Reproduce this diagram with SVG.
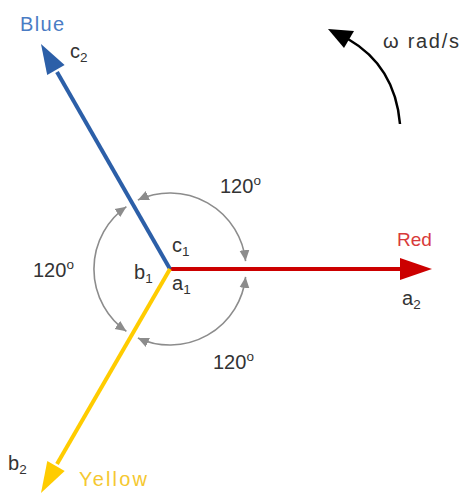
<svg xmlns="http://www.w3.org/2000/svg" width="461" height="494" viewBox="0 0 461 494">
<style>
text{font-family:"Liberation Sans",Arial,sans-serif;fill:#333;font-size:20px}
.sub{font-size:13.5px}
.arc{fill:none;stroke:#8c8c8c;stroke-width:1.6;marker-start:url(#g);marker-end:url(#g)}
</style>
<defs>
<marker id="g" markerUnits="userSpaceOnUse" viewBox="0 0 10 10" refX="10" refY="5" markerWidth="11" markerHeight="11" orient="auto-start-reverse">
<path d="M0,0.5 L10,5 L0,9.5 z" fill="#8c8c8c"/>
</marker>
</defs>
<rect width="461" height="494" fill="#fff"/>
<g id="connectors">
<path class="arc" d="M245.6,261.1 A76,76 0 0 0 137.9,200.1"/>
<path class="arc" d="M126.4,206.7 A76,76 0 0 0 126.4,331.3"/>
<path class="arc" d="M137.9,337.9 A76,76 0 0 0 245.6,276.9"/>
</g>
<g id="phase-red">
<line x1="170" y1="269" x2="402" y2="269" stroke="#cc0000" stroke-width="4"/>
<polygon points="400,258 432,269 400,280" fill="#cc0000"/>
<text x="397" y="246" style="fill:#d83a3a;font-size:19px">Red</text>
<text x="402" y="305">a<tspan class="sub" dy="4">2</tspan></text>
</g>
<g id="phase-blue">
<line x1="170" y1="269" x2="57" y2="72" stroke="#2c5fa8" stroke-width="4"/>
<polygon points="41,44 64.6,65 47.2,75" fill="#2c5fa8"/>
<text x="20" y="31" style="fill:#4a7cc4" textLength="44">Blue</text>
<text x="70" y="58">c<tspan class="sub" dy="4">2</tspan></text>
</g>
<g id="phase-yellow">
<line x1="170" y1="269" x2="57" y2="464" stroke="#ffcc00" stroke-width="4"/>
<polygon points="41,493 64.7,471 47.3,461" fill="#ffcc00"/>
<text x="79" y="486" style="fill:#f5c830" textLength="68">Yellow</text>
<text x="8" y="470">b<tspan class="sub" dy="4">2</tspan></text>
</g>
<g id="center-labels">
<text x="172" y="252">c<tspan class="sub" dy="4">1</tspan></text>
<text x="134" y="279">b<tspan class="sub" dy="4">1</tspan></text>
<text x="172" y="290">a<tspan class="sub" dy="4">1</tspan></text>
</g>
<g id="angles">
<text x="220" y="193">120<tspan class="sub" dy="-8">o</tspan></text>
<text x="33" y="277">120<tspan class="sub" dy="-8">o</tspan></text>
<text x="213" y="369">120<tspan class="sub" dy="-8">o</tspan></text>
</g>
<g id="rotation">
<path d="M400,124 Q395,66 348,39" fill="none" stroke="#000" stroke-width="2.5"/>
<polygon points="328,29 354,31 344,48" fill="#000"/>
<text x="383" y="48" textLength="76">ω rad/s</text>
</g>
</svg>
